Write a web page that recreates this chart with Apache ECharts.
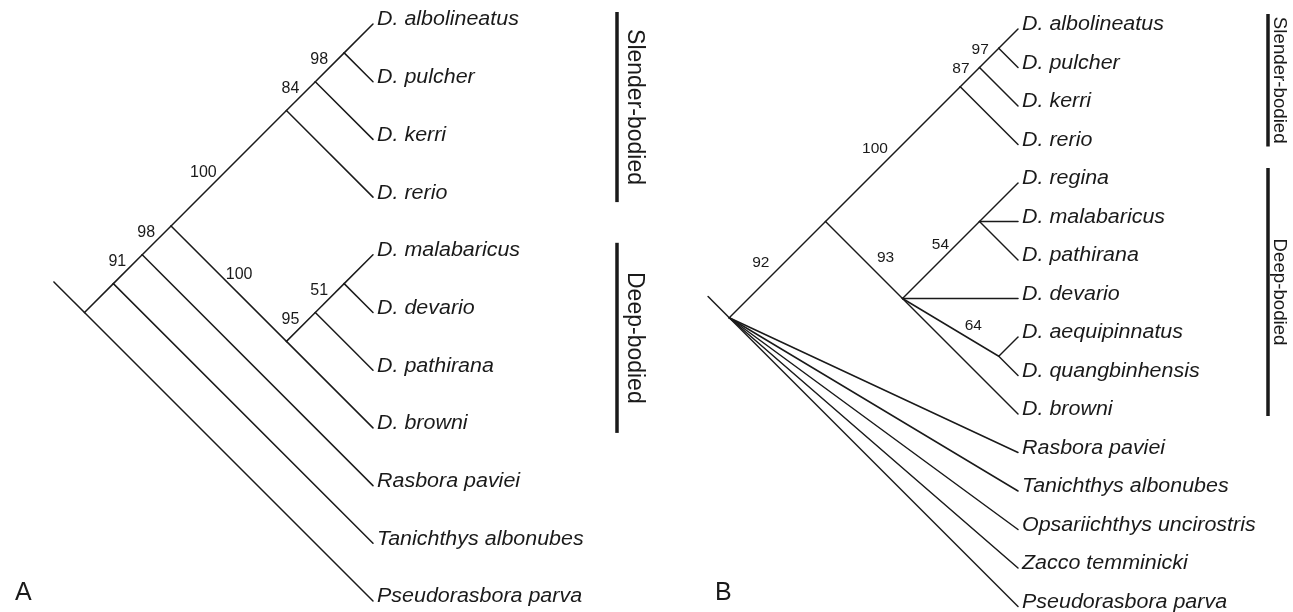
<!DOCTYPE html>
<html><head><meta charset="utf-8">
<script src="https://cdn.jsdelivr.net/npm/echarts@6/dist/echarts.min.js"></script>
<style>html,body{margin:0;padding:0;background:#fff}#c{width:1293px;height:612px}</style>
</head><body><div id="c"></div>
<script>
// ---------- DATA ----------
// Tree topology: [support value, ...children]; a plain string is a terminal taxon.
const treeA = ['',
  ['',
    ['91',
      ['98',
        ['100', ['84', ['98', 'D. albolineatus', 'D. pulcher'], 'D. kerri'], 'D. rerio'],
        ['100', ['95', ['51', 'D. malabaricus', 'D. devario'], 'D. pathirana'], 'D. browni']
      ],
      'Rasbora paviei'
    ],
    'Tanichthys albonubes'
  ],
  'Pseudorasbora parva'
];
const treeB = ['',
  ['92',
    ['100', ['87', ['97', 'D. albolineatus', 'D. pulcher'], 'D. kerri'], 'D. rerio'],
    ['93',
      ['54', 'D. regina', 'D. malabaricus', 'D. pathirana'],
      'D. devario',
      ['64', 'D. aequipinnatus', 'D. quangbinhensis'],
      'D. browni'
    ]
  ],
  'Rasbora paviei', 'Tanichthys albonubes', 'Opsariichthys uncirostris', 'Zacco temminicki', 'Pseudorasbora parva'
];
// Body-shape groups: [label, first taxon, last taxon]
const groupsA = [['Slender-bodied', 'D. albolineatus', 'D. rerio'], ['Deep-bodied', 'D. malabaricus', 'D. browni']];
const groupsB = [['Slender-bodied', 'D. albolineatus', 'D. rerio'], ['Deep-bodied', 'D. regina', 'D. browni']];
const panelLetters = ['A', 'B'];

// ---------- STYLE / LAYOUT ----------
const FONT = '"Liberation Sans", Arial, Helvetica, sans-serif';
const INK = '#1a1a1a';
// supNudge: small pixel nudges for support labels, in the order the layout emits them
// A: 98, 84, 51, 95, 100(up), 100(down), 98, 91   B: 97, 87, 54, 64, 100, 93, 92
const panelStyle = [
  { tipX: 373, top: 24, gap: 57.7, xMin: -6, stem: 0.53, tipFont: 19.5, tipScale: 1.1,
    supFont: 16, nearDy: 7, barGap: 244, barPad: [-12, 5], grpFont: 23, grpGap: 17.5, letterX: 15,
    supNudge: [[0,0],[0,0],[0,0],[0,0],[-2,9],[-9,-3],[0,0],[0,0]] },
  { tipX: 1018, top: 29, gap: 38.5, xMin: -9, stem: 0.55, tipFont: 19.5, tipScale: 1.1,
    supFont: 15.5, nearDy: 1, barGap: 250, barPad: [-15, 2], grpFont: 18.7, grpGap: 11, letterX: 715,
    supNudge: [[0,0],[0,0],[18,-10],[8,4],[5,0],[7,4],[2,-2]] }
];

// Diagonal cladogram layout: leaves on integer rows, each internal node at the
// midpoint of its leaf span, pulled left by half that span (45-degree branches).
function layoutTree(tree, stemLen) {
  let leaf = 0;
  const edges = [], tips = [], supports = [];
  function walk(n) {
    if (typeof n === 'string') {
      const p = { x: 0, y: leaf, lo: leaf, hi: leaf, name: n };
      leaf++;
      tips.push(p);
      return p;
    }
    const kids = n.slice(1).map(walk);
    const lo = kids[0].lo, hi = kids[kids.length - 1].hi;
    const p = { x: -(hi - lo) / 2, y: (lo + hi) / 2, lo, hi, support: n[0] };
    kids.forEach(k => {
      edges.push([p.x, p.y, k.x, k.y]);
      if (k.support) supports.push({ v: [p.x, p.y, k.x, k.y], text: k.support });
    });
    return p;
  }
  const root = walk(tree);
  edges.push([root.x, root.y, root.x - stemLen, root.y - stemLen]);
  return { edges, tips, supports, nLeaves: leaf };
}

const grids = [], xAxes = [], yAxes = [], series = [], graphics = [];
[[treeA, groupsA], [treeB, groupsB]].forEach(([tree, groups], i) => {
  const st = panelStyle[i];
  const L = layoutTree(tree, st.stem);
  const leafIndex = {};
  L.tips.forEach(t => leafIndex[t.name] = t.y);
  grids.push({ left: st.tipX + st.xMin * st.gap, width: -st.xMin * st.gap,
               top: st.top, height: (L.nLeaves - 1) * st.gap, containLabel: false });
  xAxes.push({ gridIndex: i, type: 'value', min: st.xMin, max: 0, show: false });
  yAxes.push({ gridIndex: i, type: 'value', min: 0, max: L.nLeaves - 1, inverse: true, show: false });

  // branches
  series.push({
    type: 'custom', xAxisIndex: i, yAxisIndex: i, silent: true,
    data: L.edges,
    renderItem: (params, api) => {
      const a = api.coord([api.value(0), api.value(1)]);
      const b = api.coord([api.value(2), api.value(3)]);
      return { type: 'line', shape: { x1: a[0], y1: a[1], x2: b[0], y2: b[1] },
               style: { stroke: INK, lineWidth: 1.5, lineCap: 'round' } };
    }
  });
  // taxon names
  series.push({
    type: 'custom', xAxisIndex: i, yAxisIndex: i, silent: true,
    data: L.tips.map(t => [t.x, t.y]),
    renderItem: (params, api) => {
      const p = api.coord([api.value(0), api.value(1)]);
      return { type: 'text', x: p[0] + 4, y: p[1] - 4, scaleX: st.tipScale,
               style: { text: L.tips[params.dataIndex].name, fill: INK,
                        font: 'italic ' + st.tipFont + 'px ' + FONT, align: 'left', verticalAlign: 'middle' } };
    }
  });
  // bootstrap / support values
  series.push({
    type: 'custom', xAxisIndex: i, yAxisIndex: i, silent: true,
    data: L.supports.map(s => s.v),
    renderItem: (params, api) => {
      const P = api.coord([api.value(0), api.value(1)]);
      const C = api.coord([api.value(2), api.value(3)]);
      const dyUnits = Math.abs(api.value(3) - api.value(1));
      let x, y, align;
      if (dyUnits <= 1) {
        x = C[0] - st.nearDy - 9; y = C[1] + st.nearDy; align = 'right';
      } else {
        const mx = (P[0] + C[0]) / 2, my = (P[1] + C[1]) / 2;
        if (C[1] < P[1]) { x = mx - 10; y = my - 5; align = 'right'; }
        else { x = mx + 6; y = my - 6; align = 'left'; }
      }
      const nd = st.supNudge[params.dataIndex] || [0, 0];
      return { type: 'text', x: x + nd[0], y: y + nd[1],
               style: { text: L.supports[params.dataIndex].text, fill: INK,
                        font: st.supFont + 'px ' + FONT, align, verticalAlign: 'middle' } };
    }
  });
  // group bars
  series.push({
    type: 'custom', xAxisIndex: i, yAxisIndex: i, silent: true,
    data: groups.map(g => [0, leafIndex[g[1]], 0, leafIndex[g[2]]]),
    renderItem: (params, api) => {
      const a = api.coord([0, api.value(1)]);
      const b = api.coord([0, api.value(3)]);
      const bx = a[0] + st.barGap;
      const y1 = a[1] + st.barPad[0], y2 = b[1] + st.barPad[1];
      return { type: 'group', children: [
        { type: 'line', shape: { x1: bx, y1, x2: bx, y2 }, style: { stroke: INK, lineWidth: 3.5 } },
        { type: 'text', x: bx + st.grpGap, y: (y1 + y2) / 2, rotation: -Math.PI / 2,
          style: { text: groups[params.dataIndex][0], fill: INK, font: st.grpFont + 'px ' + FONT,
                   align: 'center', verticalAlign: 'middle' } }
      ] };
    }
  });
  graphics.push({ type: 'text', left: st.letterX, top: 581,
                  style: { text: panelLetters[i], fill: INK, font: '25px ' + FONT } });
});

const chart = echarts.init(document.getElementById('c'), null, { renderer: 'canvas' });
chart.setOption({
  backgroundColor: '#fff',
  animation: false,
  grid: grids, xAxis: xAxes, yAxis: yAxes,
  series, graphic: graphics
});
</script></body></html>
